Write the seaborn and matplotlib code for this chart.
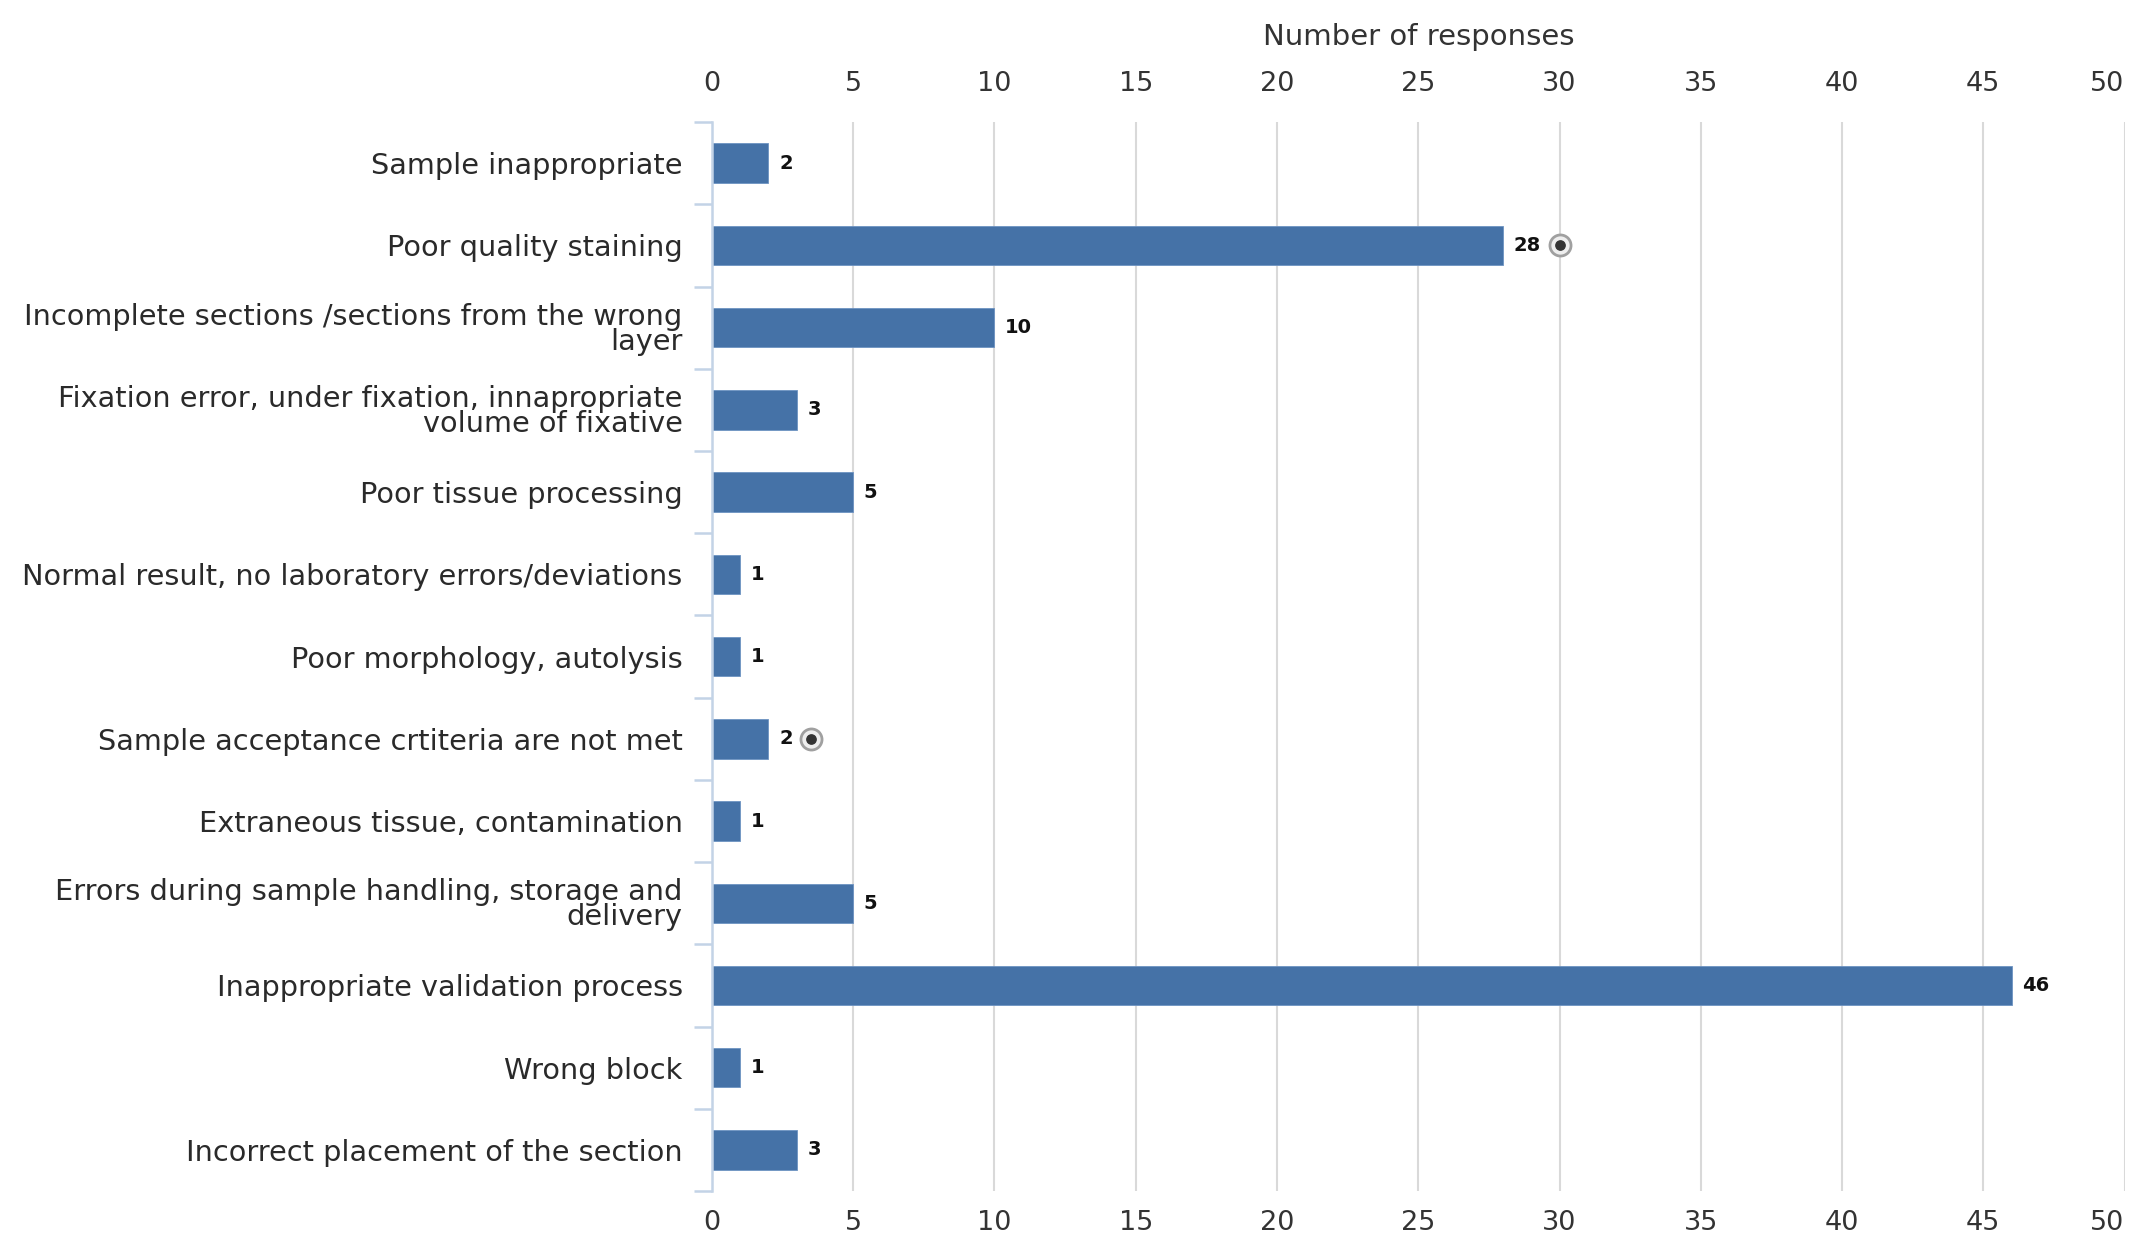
import seaborn as sns
import matplotlib.pyplot as plt
import numpy as np
from matplotlib.transforms import ScaledTranslation

categories = [
    'Sample inappropriate',
    'Poor quality staining',
    'Incomplete sections /sections from the wrong\nlayer',
    'Fixation error, under fixation, innapropriate\nvolume of fixative',
    'Poor tissue processing',
    'Normal result, no laboratory errors/deviations',
    'Poor morphology, autolysis',
    'Sample acceptance crtiteria are not met',
    'Extraneous tissue, contamination',
    'Errors during sample handling, storage and\ndelivery',
    'Inappropriate validation process',
    'Wrong block',
    'Incorrect placement of the section',
]
responses = [2, 28, 10, 3, 5, 1, 1, 2, 1, 5, 46, 1, 3]

# the two little ring markers that sit next to some bars
marker_rows = [1, 7]
marker_x = [30, 3.5]

x_ticks = list(range(0, 51, 5))

sns.set_theme(style='white')
plt.rcParams['font.family'] = ['DejaVu Sans']

fig = plt.figure(figsize=(21.34, 12.43), dpi=100)
ax = fig.add_axes([0.3336, 0.0418, 0.6620, 0.86])

bar_color = '#4572a7'
sns.barplot(x=responses, y=categories, orient='h', color=bar_color,
            width=0.48, edgecolor='#6d93c2', linewidth=0.6, ax=ax,
            saturation=1)

# value labels at the end of each bar
for i, v in enumerate(responses):
    ax.text(v + 0.38, i, str(v), va='center', ha='left',
            fontsize=14, fontweight='bold', color='#111111')

# ring markers
ax.scatter(marker_x, marker_rows, s=230, facecolor='#eeeeee',
           edgecolor='#a0a0a0', linewidth=2, zorder=4)
ax.scatter(marker_x, marker_rows, s=45, color='#333333', zorder=5)

ax.set_xlim(0, 50)
ax.set_ylim(len(categories) - 0.5, -0.5)
ax.set_xticks(x_ticks)
ax.grid(axis='x', color='#d9d9d9', linewidth=1.5)
ax.grid(axis='y', visible=False)
ax.set_axisbelow(True)

for side in ['top', 'right', 'bottom']:
    ax.spines[side].set_visible(False)
ax.spines['left'].set_color('#c3d3e6')
ax.spines['left'].set_linewidth(1.8)

ax.tick_params(axis='x', which='major', length=0, labelsize=19.5,
               labelcolor='#333333', top=True, labeltop=True,
               bottom=True, labelbottom=True)

ax.set_yticks(np.arange(-0.5, len(categories), 1), minor=True)
ax.tick_params(axis='y', which='minor', length=13, width=1.8,
               color='#c3d3e6', left=True)
ax.tick_params(axis='y', which='major', length=0, labelsize=20.7,
               labelcolor='#2a2a2a', pad=21)
for lbl in ax.get_yticklabels():
    lbl.set_linespacing(0.87)

ax.set_ylabel('')
ax.set_xlabel('Number of responses', fontsize=21, color='#333333',
              labelpad=19)
ax.xaxis.set_label_position('top')

# top labels sit a bit further from the plot than the bottom ones
for t in ax.xaxis.get_major_ticks():
    t.set_pad(14)
for t in ax.xaxis.get_major_ticks():
    t.label2.set_transform(t.label2.get_transform() +
                           ScaledTranslation(0, 4 / 72, fig.dpi_scale_trans))
# keep the "50" inside the picture
last = ax.xaxis.get_major_ticks()[-1]
last.label1.set_horizontalalignment('right')
last.label2.set_horizontalalignment('right')

fig.savefig('out.png', dpi=100)
